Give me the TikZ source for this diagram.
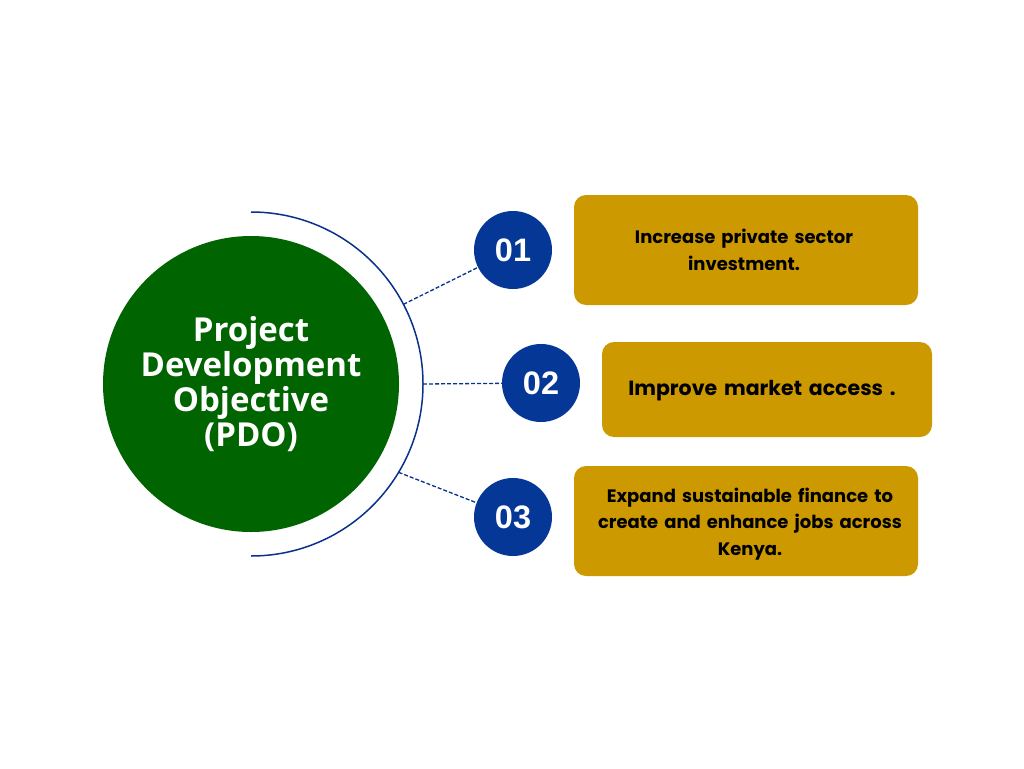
\documentclass[tikz,border=0pt]{standalone}
\usepackage{fontspec}
\setmainfont{Poppins}[BoldFont={Poppins Bold}]
\newfontfamily\pdofont{Open Sans}
\newfontfamily\numfont{Liberation Sans}
\usetikzlibrary{calc}
\definecolor{pdogreen}{RGB}{0,100,0}
\definecolor{navy}{RGB}{10,50,140}
\definecolor{numblue}{RGB}{5,55,150}
\definecolor{gold}{RGB}{204,153,0}
\tikzset{
  numcirc/.style={circle,fill=numblue,minimum size=78pt,inner sep=0pt,text=white,font=\numfont\bfseries\fontsize{32.5}{32.5}\selectfont},
  goalbox/.style={rectangle,rounded corners=12pt,fill=gold,inner sep=0pt,align=center,font=\bfseries\fontsize{18}{26.5}\selectfont},
  link/.style={navy,line width=1.3pt,dash pattern=on 4pt off 2pt}
}
\begin{document}
\begin{tikzpicture}[x=1pt,y=-1pt]
\useasboundingbox[fill=white] (0,0) rectangle (1024,768);
\coordinate (C) at (251,384);
\node[circle,fill=pdogreen,minimum size=296pt,inner sep=0pt,text=white,align=center,
  font=\pdofont\bfseries\fontsize{33}{35}\selectfont] (pdo) at (C) {Project\\Development\\Objective\\(PDO)};
\draw[navy,line width=1.5pt] (251,212) arc[start angle=-90,end angle=90,radius=172];
\coordinate (a1) at ($(C)+(-27.6:172)$);
\coordinate (a2) at ($(C)+(0:172)$);
\coordinate (a3) at ($(C)+(30.9:172)$);
\node[numcirc] (n1) at (513,250) {01};
\node[numcirc] (n2) at (541,383) {02};
\node[numcirc] (n3) at (513,517) {03};
\draw[link] (a1) -- (n1);
\draw[link] (a2) -- (n2);
\draw[link] (a3) -- (n3);
\node[goalbox,minimum width=344pt,minimum height=110pt] (b1) at (746,250) {};
\node[goalbox,minimum width=330pt,minimum height=95pt] (b2) at (767,389.5) {};
\node[goalbox,minimum width=344pt,minimum height=110pt] (b3) at (746,521) {};
\node[goalbox,fill=none,text width=320pt] (t1) at (744,250) {Increase private sector\\investment.};
\node[goalbox,fill=none,text width=320pt,font=\bfseries\fontsize{20.5}{26.5}\selectfont] (t2) at (762,391) {Improve market access .};
\node[goalbox,fill=none,text width=330pt] (t3) at (750,524) {Expand sustainable finance to\\create and enhance jobs across\\Kenya.};
\end{tikzpicture}
\end{document}
